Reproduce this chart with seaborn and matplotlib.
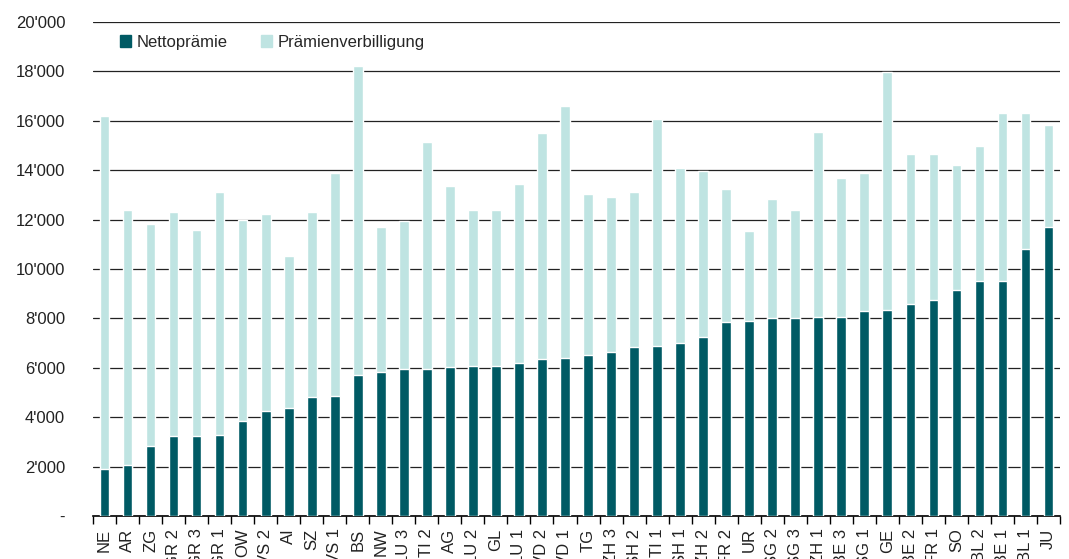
import numpy as np
import pandas as pd
import matplotlib
matplotlib.use('Agg')
import matplotlib.pyplot as plt
import seaborn as sns
from matplotlib.ticker import FuncFormatter, FixedLocator
from matplotlib.patches import Patch

# ---- Data ----
regions = ['NE', 'AR', 'ZG', 'GR 2', 'GR 3', 'GR 1', 'OW', 'VS 2', 'AI', 'SZ',
           'VS 1', 'BS', 'NW', 'LU 3', 'TI 2', 'AG', 'LU 2', 'GL', 'LU 1', 'VD 2',
           'VD 1', 'TG', 'ZH 3', 'SH 2', 'TI 1', 'SH 1', 'ZH 2', 'FR 2', 'UR', 'SG 2',
           'SG 3', 'ZH 1', 'BE 3', 'SG 1', 'GE', 'BE 2', 'FR 1', 'SO', 'BL 2', 'BE 1',
           'BL 1', 'JU']
netto = [1900, 2060, 2820, 3240, 3240, 3280, 3860, 4240, 4360, 4820,
         4860, 5700, 5820, 5950, 5950, 6030, 6060, 6070, 6190, 6360,
         6380, 6500, 6650, 6860, 6880, 7020, 7260, 7850, 7880, 8020,
         8020, 8060, 8060, 8300, 8330, 8580, 8740, 9150, 9500, 9510,
         10810, 11700]
verbilligung = [14290, 10330, 9000, 9070, 8340, 9840, 8120, 7990, 6170, 7490,
                9030, 12520, 5880, 5990, 9190, 7330, 6330, 6320, 7250, 9150,
                10220, 6540, 6260, 6260, 9190, 7070, 6710, 5390, 3660, 4810,
                4370, 7490, 5620, 5590, 9650, 6080, 5920, 5060, 5480, 6810,
                5510, 4130]

df = pd.DataFrame({'Region': regions, 'Nettoprämie': netto,
                   'Prämienverbilligung': verbilligung})
df['Total'] = df['Nettoprämie'] + df['Prämienverbilligung']

dark = '#005a64'
light = '#bfe4e2'

sns.set_style('white')
plt.rcParams['font.family'] = ['Liberation Sans', 'DejaVu Sans']

fig = plt.figure(figsize=(10.69, 5.59), dpi=100)
ax = fig.add_axes([93 / 1069, 1 - 516 / 559, (1060 - 93) / 1069, (516 - 22) / 559])

# light bar = total height, dark bar drawn over it
sns.barplot(data=df, x='Region', y='Total', color=light, width=0.42,
            saturation=1, ax=ax, zorder=2)
sns.barplot(data=df, x='Region', y='Nettoprämie', color=dark, width=0.42,
            saturation=1, ax=ax, zorder=3)

ax.set_ylim(0, 20000)
ax.set_xlim(-0.5, len(regions) - 0.5)
ax.set_yticks(np.arange(0, 20001, 2000))
ax.yaxis.set_major_formatter(FuncFormatter(
    lambda v, p: '-' if v == 0 else f"{int(v):,}".replace(',', "'")))
ax.grid(axis='y', color='#222222', linewidth=0.9, zorder=0)
ax.set_axisbelow(True)
ax.tick_params(axis='y', length=0, pad=20, labelsize=12, labelcolor='#222222')

ax.tick_params(axis='x', which='major', length=0, pad=9, labelsize=12,
               labelrotation=90, labelcolor='#222222')
ax.xaxis.set_minor_locator(FixedLocator(np.arange(-0.5, len(regions), 1)))
ax.tick_params(axis='x', which='minor', length=6, width=1, color='black',
               direction='out', bottom=True)
for lbl in ax.get_xticklabels():
    lbl.set_va('top')

ax.set_xlabel('')
ax.set_ylabel('')
for s in ['top', 'right', 'left']:
    ax.spines[s].set_visible(False)
ax.spines['bottom'].set_color('black')
ax.spines['bottom'].set_linewidth(1.2)

handles = [Patch(color=dark, label='Nettoprämie'),
           Patch(color=light, label='Prämienverbilligung')]
ax.legend(handles=handles, loc='upper left', bbox_to_anchor=(0.012, 1.005),
          ncol=2, frameon=False, fontsize=12, handlelength=0.7,
          handleheight=0.7, handletextpad=0.3, columnspacing=2.0)

fig.savefig('out.png', dpi=100)
